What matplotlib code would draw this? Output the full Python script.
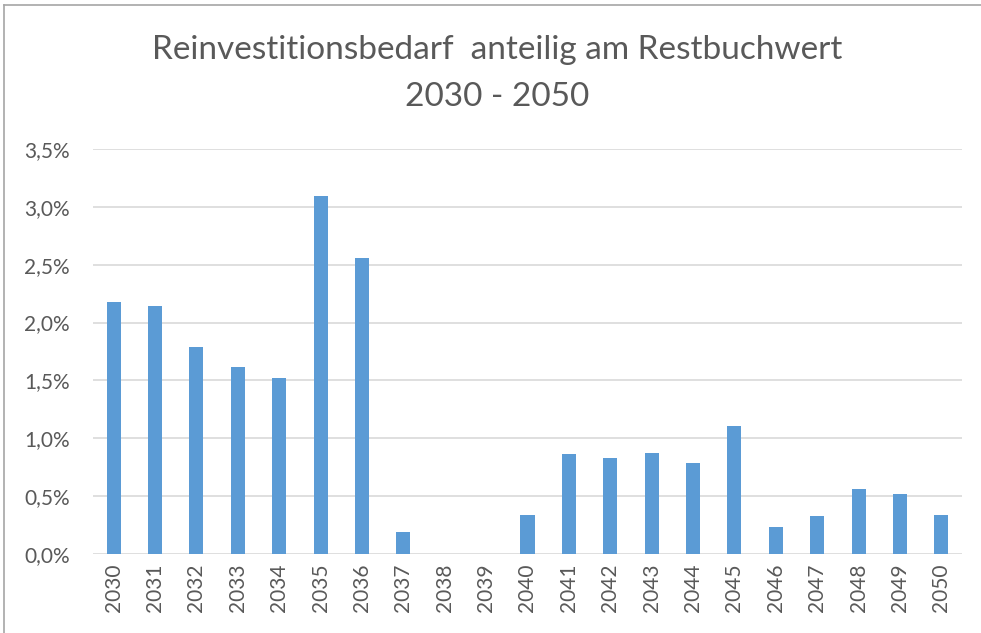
import matplotlib.pyplot as plt
import numpy as np
from matplotlib.ticker import FuncFormatter, MultipleLocator
from matplotlib.lines import Line2D

# Reinvestitionsbedarf in % vom Restbuchwert, 2030-2050
years = [str(y) for y in range(2030, 2051)]
shares = [2.18, 2.14, 1.79, 1.62, 1.52, 3.09, 2.56, 0.19, 0.0, 0.0, 0.34,
          0.86, 0.83, 0.87, 0.79, 1.11, 0.23, 0.33, 0.56, 0.52, 0.34]

text_grey = '#595959'
plt.rcParams['font.family'] = ['Lato', 'DejaVu Sans']

fig = plt.figure(figsize=(9.81, 6.33), dpi=100)
ax = fig.add_axes([93 / 981, 1 - 554 / 633, 869 / 981, 405 / 633])

x = np.arange(len(years))
ax.bar(x, shares, width=0.34, color='#5b9bd5', zorder=3)

ax.set_xlim(-0.5, len(years) - 0.5)
ax.set_ylim(0, 3.5)
ax.yaxis.set_major_locator(MultipleLocator(0.5))
ax.yaxis.set_major_formatter(FuncFormatter(lambda v, p: f'{v:.1f}%'.replace('.', ',')))
ax.grid(axis='y', color='#d9d9d9', linewidth=1.2, zorder=0)

ax.set_xticks(x)
ax.set_xticklabels(years, rotation=90)
ax.tick_params(axis='both', length=0, labelsize=15, colors=text_grey)
ax.tick_params(axis='x', pad=7)
ax.tick_params(axis='y', pad=16.5)
for s in ax.spines.values():
    s.set_visible(False)

fig.text(497 / 981, 1 - 50 / 633, 'Reinvestitionsbedarf  anteilig am Restbuchwert',
         ha='center', va='center', fontsize=24, color=text_grey)
fig.text(497 / 981, 1 - 97 / 633, '2030 - 2050',
         ha='center', va='center', fontsize=24, color=text_grey)

# Rahmen des Diagrammbereichs (oben und links)
fig.add_artist(Line2D([4 / 981, 1], [1 - 5 / 633, 1 - 5 / 633], color='#a6a6a6', lw=1.2))
fig.add_artist(Line2D([4 / 981, 4 / 981], [0, 1 - 5 / 633], color='#a6a6a6', lw=1.2))

fig.savefig('out.png', dpi=100, facecolor='white')
